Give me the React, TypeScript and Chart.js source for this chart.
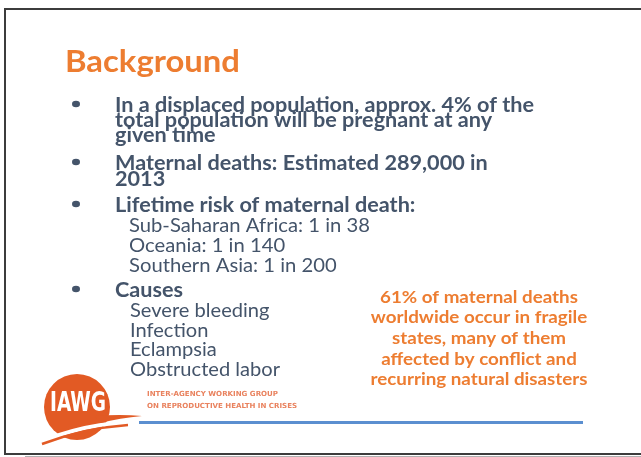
import React, { useEffect, useRef } from "react";
import { Chart, registerables } from "chart.js";

Chart.register(...registerables);

// ---- content ----
const TITLE = "Background";
const BULLET_1 = [
  "In a displaced population, approx. 4% of the",
  "total population will be pregnant at any",
  "given time",
];
const BULLET_2 = ["Maternal deaths: Estimated 289,000 in", "2013"];
const BULLET_3 = ["Lifetime risk of maternal death:"];
const RISK_LINES = ["Sub-Saharan Africa: 1 in 38", "Oceania: 1 in 140", "Southern Asia: 1 in 200"];
const BULLET_4 = ["Causes"];
const CAUSES = ["Severe bleeding", "Infection", "Eclampsia", "Obstructed labor"];
const CALLOUT = [
  "61% of maternal deaths",
  "worldwide occur in fragile",
  "states, many of them",
  "affected by conflict and",
  "recurring natural disasters",
];
const LOGO_MARK = "IAWG";
const LOGO_LINES = ["INTER-AGENCY WORKING GROUP", "ON REPRODUCTIVE HEALTH IN CRISES"];

const W = 641;
const H = 457;
const DARK = "#44546A";
const ORANGE = "#ED7D31";
const LOGO_ORANGE = "#E25A24";
const FAMILY = "Lato, 'Open Sans', sans-serif";

type Style = { size: number; weight: string; family: string; color: string; sx: number };

function makeStyle(ctx: CanvasRenderingContext2D, size: number, weight: string, family: string, color: string, ref: string, refWidth: number): Style {
  ctx.save();
  ctx.font = `${weight} ${size}px ${family}`;
  const m = ctx.measureText(ref).width;
  ctx.restore();
  return { size, weight, family, color, sx: refWidth / m };
}

function drawLines(ctx: CanvasRenderingContext2D, lines: string[], st: Style, x: number, baselines: number[], align: CanvasTextAlign = "left") {
  ctx.save();
  ctx.font = `${st.weight} ${st.size}px ${st.family}`;
  ctx.fillStyle = st.color;
  ctx.textAlign = align;
  ctx.textBaseline = "alphabetic";
  lines.forEach((t, i) => {
    ctx.save();
    ctx.translate(x, baselines[i]);
    ctx.scale(st.sx, 1);
    ctx.fillText(t, 0, 0);
    ctx.restore();
  });
  ctx.restore();
}

function bullet(ctx: CanvasRenderingContext2D, x: number, y: number) {
  ctx.save();
  ctx.fillStyle = DARK;
  ctx.beginPath();
  ctx.ellipse(x, y, 4, 3.3, 0, 0, Math.PI * 2);
  ctx.fill();
  ctx.restore();
}

const slidePlugin = {
  id: "slide",
  afterDraw(chart: Chart) {
    const ctx = chart.ctx;
    ctx.save();

    // frame
    ctx.strokeStyle = "#3c3c3c";
    ctx.lineWidth = 2;
    ctx.beginPath();
    ctx.moveTo(4, 9);
    ctx.lineTo(W, 9);
    ctx.moveTo(5, 8);
    ctx.lineTo(5, 455);
    ctx.moveTo(4, 454);
    ctx.lineTo(W, 454);
    ctx.stroke();
    ctx.strokeStyle = "#b0b0b0";
    ctx.lineWidth = 1;
    ctx.beginPath();
    ctx.moveTo(25, 456.5);
    ctx.lineTo(W, 456.5);
    ctx.stroke();

    // title
    const titleSt = makeStyle(ctx, 30, "bold", FAMILY, ORANGE, TITLE, 175);
    drawLines(ctx, [TITLE], titleSt, 65, [72]);

    // bullets
    const boldSt = makeStyle(ctx, 20.5, "bold", FAMILY, DARK, BULLET_1[0], 419);
    const subSt = makeStyle(ctx, 19.5, "normal", FAMILY, DARK, RISK_LINES[0], 241);
    const causeSt = makeStyle(ctx, 19.5, "normal", FAMILY, DARK, CAUSES[3], 150);

    bullet(ctx, 76, 104);
    drawLines(ctx, BULLET_1, boldSt, 115, [112, 127, 142]);
    bullet(ctx, 76, 162);
    drawLines(ctx, BULLET_2, boldSt, 115, [170, 186]);
    bullet(ctx, 76, 204);
    drawLines(ctx, BULLET_3, boldSt, 115, [212]);
    drawLines(ctx, RISK_LINES, subSt, 129, [232, 252, 272]);
    bullet(ctx, 76, 289);
    drawLines(ctx, BULLET_4, boldSt, 115, [297]);
    drawLines(ctx, CAUSES, causeSt, 130, [317, 337, 356, 376]);

    // callout
    const calloutSt = makeStyle(ctx, 17, "bold", FAMILY, ORANGE, CALLOUT[4], 217);
    drawLines(ctx, CALLOUT, calloutSt, 479, [303, 323, 344, 365, 385], "center");

    // logo
    ctx.fillStyle = LOGO_ORANGE;
    ctx.beginPath();
    ctx.arc(77, 407, 33, 0, Math.PI * 2);
    ctx.fill();
    // white swoosh cutting the bottom
    ctx.strokeStyle = "#ffffff";
    ctx.lineWidth = 4;
    ctx.beginPath();
    ctx.moveTo(30, 446);
    ctx.quadraticCurveTo(90, 420, 150, 422);
    ctx.stroke();
    // orange tail
    ctx.fillStyle = LOGO_ORANGE;
    ctx.beginPath();
    ctx.moveTo(95, 416);
    ctx.quadraticCurveTo(120, 414, 142, 416);
    ctx.quadraticCurveTo(120, 418, 100, 423);
    ctx.closePath();
    ctx.fill();
    // lower thin swoosh
    ctx.strokeStyle = LOGO_ORANGE;
    ctx.lineWidth = 2.5;
    ctx.beginPath();
    ctx.moveTo(42, 444);
    ctx.quadraticCurveTo(85, 428, 128, 425);
    ctx.stroke();

    const markSt = makeStyle(ctx, 27, "bold", "'Liberation Sans Narrow', 'DejaVu Sans Condensed', sans-serif", "#ffffff", LOGO_MARK, 56);
    drawLines(ctx, [LOGO_MARK], markSt, 50, [411]);

    const smallSt = makeStyle(ctx, 7, "bold", "'DejaVu Sans Condensed', sans-serif", "#E9825E", LOGO_LINES[0], 131);
    drawLines(ctx, LOGO_LINES, smallSt, 147, [396, 408]);

    // blue rule
    ctx.fillStyle = "#5B8FD0";
    ctx.fillRect(139, 421, 444, 3);

    ctx.restore();
  },
};

export default function App() {
  const ref = useRef<HTMLCanvasElement | null>(null);
  useEffect(() => {
    document.body.style.margin = "0";
    const canvas = ref.current!;
    const chart = new Chart(canvas, {
      type: "scatter",
      data: { datasets: [] },
      options: {
        responsive: false,
        animation: false,
        devicePixelRatio: 1,
        layout: { padding: 0 },
        plugins: { legend: { display: false }, tooltip: { enabled: false }, title: { display: false } },
        scales: { x: { display: false }, y: { display: false } },
      },
      plugins: [slidePlugin],
    });
    return () => chart.destroy();
  }, []);
  return (
    <div style={{ width: W, height: H, background: "#ffffff" }}>
      <canvas ref={ref} width={W} height={H} style={{ display: "block", width: W, height: H }} />
    </div>
  );
}
